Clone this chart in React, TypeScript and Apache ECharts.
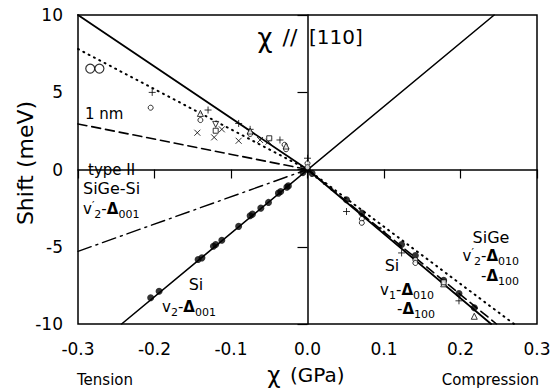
import React, { useEffect, useRef } from "react";
import * as echarts from "echarts";

// ---- axis ranges / ticks ----
const xRange = [-0.3, 0.3];
const xStep = 0.1;
const yRange = [-10, 10];
const yStep = 5;

// ---- model lines (GPa, meV) ----
const siTensionSolid = [[-0.3, 10], [0, 0]];
const siV2Solid = [[-0.243, -10], [0.244, 10]];
const siV1CompSolid = [[0, 0], [0.24, -10]];
const sigeDotted = [[-0.3, 7.8], [0, 0], [0.27, -10]];
const oneNmDashed = [[-0.3, 2.95], [0, 0]];
const sigeCompDashed = [[0, 0], [0.247, -10]];
const typeIIDashDot = [[-0.3, -5.3], [0, 0]];

// ---- measured points ----
const filledDots = [
  [-0.205, -8.3], [-0.194, -7.88], [-0.143, -5.83], [-0.138, -5.72], [-0.123, -4.97],
  [-0.12, -4.86], [-0.112, -4.58], [-0.09, -3.68], [-0.075, -2.99], [-0.072, -2.89],
  [-0.061, -2.5], [-0.051, -2.13], [-0.038, -1.53], [-0.035, -1.42], [-0.027, -1.14],
  [-0.025, -1.06], [-0.006, -0.2], [0, 0], [0.006, -0.25],
  [0.051, -1.96], [0.071, -2.82], [0.123, -4.86], [0.141, -5.57], [0.178, -7.17],
  [0.198, -8.03], [0.218, -8.95],
];
const smallDots = [[0.012, -0.5], [0.022, -0.9], [0.032, -1.3], [0.095, -3.8], [0.1, -4.05]];
const bigCircles = [[-0.284, 6.53], [-0.272, 6.53]];
const openCircles = [
  [-0.205, 4.0], [-0.14, 3.2], [-0.075, 2.3], [-0.028, 1.31], [-0.03, 1.6],
  [0, 0.4], [0, 0.15], [0.071, -3.2], [0.071, -3.45], [0.141, -5.85], [0.141, -6.05],
];
const plusMarks = [
  [-0.203, 4.99], [-0.13, 3.85], [-0.09, 2.98], [-0.075, 2.6], [-0.036, 1.91], [0, 0.73],
  [0.051, -2.72], [0.123, -5.4], [0.198, -8.5],
];
const crossMarks = [
  [-0.144, 2.38], [-0.122, 2.08], [-0.112, 2.6], [-0.09, 1.86], [-0.062, 1.91], [-0.051, 1.8],
];
const triUp = [[-0.14, 3.63], [-0.075, 2.49], [-0.028, 1.52], [0.178, -7.4], [0.218, -9.5]];
const triDown = [[-0.12, 2.92]];
const squares = [[-0.12, 2.51], [-0.05, 2.02], [0.178, -7.3]];

const FONT = "DejaVu Sans";

const subRich = {
  n: { fontSize: 15, fontFamily: FONT, color: "#000" },
  d: { fontSize: 15, fontFamily: FONT, fontWeight: "bold", color: "#000" },
  s: { fontSize: 11, fontFamily: FONT, color: "#000", padding: [10, 0, 0, 0] },
  p: { fontSize: 11, fontFamily: FONT, color: "#000", padding: [0, 0, 8, 0] },
};

function richText(x: number, y: number, text: string, align: string = "left") {
  return {
    type: "text",
    x,
    y,
    style: {
      text,
      rich: subRich,
      fontSize: 15,
      fontFamily: FONT,
      fill: "#000",
      textAlign: align,
      textVerticalAlign: "middle",
    },
  };
}

function plainText(x: number, y: number, text: string, size: number, align: string = "left", extra: any = {}) {
  return {
    type: "text",
    x,
    y,
    ...extra,
    style: {
      text,
      fontSize: size,
      fontFamily: FONT,
      fill: "#000",
      textAlign: align,
      textVerticalAlign: "middle",
    },
  };
}

function lineSeries(data: number[][], type: any, width = 1.6) {
  return {
    type: "line",
    data,
    symbol: "none",
    silent: true,
    lineStyle: { color: "#000", width, type, cap: "round" },
    z: 2,
  };
}

function markSeries(data: number[][], symbol: string, size: number, fill: string, bw = 1) {
  return {
    type: "scatter",
    data,
    symbol,
    symbolSize: size,
    itemStyle: { color: fill, borderColor: "#000", borderWidth: bw },
    z: 3,
  };
}

export default function App() {
  const ref = useRef<HTMLDivElement>(null);
  useEffect(() => {
    if (!ref.current) return;
    const chart = echarts.init(ref.current, undefined, { renderer: "svg" });
    chart.setOption({
      animation: false,
      backgroundColor: "#fff",
      grid: {
        left: 78, right: 19, top: 15, bottom: 67,
        show: true, borderColor: "#000", borderWidth: 1.5, backgroundColor: "transparent",
      },
      xAxis: {
        type: "value",
        min: xRange[0], max: xRange[1], interval: xStep,
        axisLine: { lineStyle: { color: "#000", width: 1.5 } },
        axisTick: { length: 9, lineStyle: { color: "#000", width: 1.2 } },
        axisLabel: {
          color: "#000", fontSize: 17, fontFamily: FONT, margin: 16,
          formatter: (v: number) => v.toFixed(1),
        },
        splitLine: { show: false },
      },
      yAxis: {
        type: "value",
        min: yRange[0], max: yRange[1], interval: yStep,
        axisLine: { lineStyle: { color: "#000", width: 1.5 } },
        axisTick: { length: 10, lineStyle: { color: "#000", width: 1.2 } },
        axisLabel: {
          color: "#000", fontSize: 17, fontFamily: FONT, margin: 15,
          formatter: (v: number) => String(Math.round(v)),
        },
        splitLine: { show: false },
      },
      series: [
        lineSeries(siTensionSolid, "solid", 1.8),
        lineSeries(siV2Solid, "solid", 1.6),
        lineSeries(siV1CompSolid, "solid", 1.8),
        lineSeries(sigeDotted, [1, 5], 2),
        lineSeries(oneNmDashed, [9, 5], 1.6),
        lineSeries(sigeCompDashed, [9, 5], 1.6),
        lineSeries(typeIIDashDot, [14, 5, 2, 5], 1.4),
        markSeries(filledDots, "circle", 7, "#000", 0),
        markSeries(smallDots, "circle", 3, "#000", 0),
        markSeries(bigCircles, "circle", 9, "#fff", 1.2),
        markSeries(openCircles, "circle", 5, "#fff", 1),
        markSeries(plusMarks, "path://M0,5L10,5M5,0L5,10", 7, "none", 1),
        markSeries(crossMarks, "path://M0,0L10,10M10,0L0,10", 6, "none", 1),
        markSeries(triUp, "path://M5,0L10,9L0,9Z", 6, "#fff", 1),
        markSeries(triDown, "path://M0,0L10,0L5,9Z", 6, "#fff", 1),
        markSeries(squares, "rect", 5, "#fff", 1),
      ],
      graphic: [
        // title
        plainText(265, 38, "χ", 26, "center"),
        plainText(290, 37, "//", 22, "center"),
        plainText(309, 37, "[110]", 20, "left"),
        // axis names
        plainText(25, 163, "Shift (meV)", 22, "center", { rotation: Math.PI / 2 }),
        plainText(274, 375, "χ", 23, "center"),
        plainText(290, 375, "(GPa)", 20, "left"),
        plainText(77, 380, "Tension", 15, "left"),
        plainText(539, 380, "Compression", 15, "right"),
        // annotations
        plainText(85, 114, "1 nm", 15, "left"),
        plainText(88, 170, "type II", 15, "left"),
        plainText(83, 188, "SiGe-Si", 16, "left"),
        richText(83, 209, "{n|v}{p|′}{s|2}{n|-}{d|Δ}{s|001}"),
        plainText(196, 284, "Si", 16, "center"),
        richText(162, 307, "{n|v}{s|2}{n|-}{d|Δ}{s|001}"),
        plainText(491, 237, "SiGe", 16, "center"),
        richText(519, 256, "{n|v}{p|′}{s|2}{n|-}{d|Δ}{s|010}", "right"),
        richText(519, 276, "{n|-}{d|Δ}{s|100}", "right"),
        plainText(392, 265, "Si", 16, "center"),
        richText(434, 290, "{n|v}{s|1}{n|-}{d|Δ}{s|010}", "right"),
        richText(435, 309, "{n|-}{d|Δ}{s|100}", "right"),
      ],
    });
    return () => chart.dispose();
  }, []);
  return (
    <div
      ref={ref}
      style={{ position: "fixed", left: 0, top: 0, width: 556, height: 391, background: "#fff" }}
    />
  );
}
